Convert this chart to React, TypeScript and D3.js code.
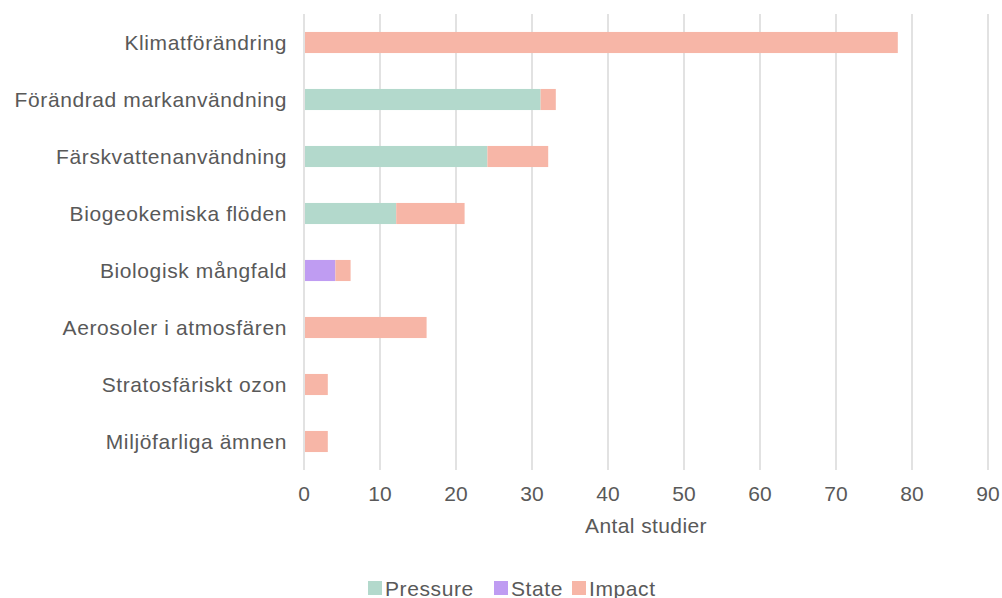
import React from "react";
import * as d3 from "d3";

const categories = [
  "Klimatförändring",
  "Förändrad markanvändning",
  "Färskvattenanvändning",
  "Biogeokemiska flöden",
  "Biologisk mångfald",
  "Aerosoler i atmosfären",
  "Stratosfäriskt ozon",
  "Miljöfarliga ämnen",
];
const pressure = [0, 31, 24, 12, 0, 0, 0, 0];
const state = [0, 0, 0, 0, 4, 0, 0, 0];
const impact = [78, 2, 8, 9, 2, 16, 3, 3];
const seriesNames = ["Pressure", "State", "Impact"];
const seriesColors = ["#b3d9cc", "#bf9cf2", "#f7b6a7"];
const xTicks = [0, 10, 20, 30, 40, 50, 60, 70, 80, 90];

const W = 1002;
const H = 598;
const left = 304;
const right = 988;
const top = 14;
const bottom = 470;
const font = "'Liberation Sans', Arial, sans-serif";
const textColor = "#595959";

export default function App() {
  const x = d3.scaleLinear().domain([0, 90]).range([left, right]);
  const y = d3
    .scaleBand<string>()
    .domain(categories)
    .range([top, bottom])
    .paddingInner(0.63)
    .paddingOuter(0.315);

  const rows = categories.map((c, i) => ({ c, vals: [pressure[i], state[i], impact[i]] }));
  const stacked = d3
    .stack<any>()
    .keys(["0", "1", "2"])
    .value((d, k) => d.vals[+k])(rows);

  const legendX = [368, 494, 572];

  return (
    <svg
      width={W}
      height={H}
      style={{ position: "absolute", left: 0, top: 0, background: "#fff" }}
      fontFamily={font}
    >
      {xTicks.map((t) => (
        <line
          key={t}
          x1={x(t)}
          x2={x(t)}
          y1={top}
          y2={bottom}
          stroke="#d9d9d9"
          strokeWidth={1.5}
        />
      ))}
      {stacked.map((s, si) =>
        s.map((d, i) =>
          d[1] - d[0] > 0 ? (
            <rect
              key={si + "-" + i}
              x={x(d[0]) + 1}
              y={y(categories[i])!}
              width={x(d[1]) - x(d[0])}
              height={y.bandwidth()}
              fill={seriesColors[si]}
            />
          ) : null
        )
      )}
      {categories.map((c) => (
        <text
          key={c}
          x={287}
          y={y(c)! + y.bandwidth() / 2}
          textAnchor="end"
          dominantBaseline="central"
          fontSize={21}
          letterSpacing={0.6}
          fill={textColor}
        >
          {c}
        </text>
      ))}
      {xTicks.map((t) => (
        <text
          key={t}
          x={x(t)}
          y={493}
          textAnchor="middle"
          dominantBaseline="central"
          fontSize={21}
          fill={textColor}
        >
          {t}
        </text>
      ))}
      <text
        x={646}
        y={525}
        textAnchor="middle"
        dominantBaseline="central"
        fontSize={21}
        letterSpacing={0.4}
        fill={textColor}
      >
        Antal studier
      </text>
      {seriesNames.map((n, i) => (
        <g key={n}>
          <rect x={legendX[i]} y={581} width={14} height={14} fill={seriesColors[i]} />
          <text
            x={legendX[i] + 17}
            y={588}
            dominantBaseline="central"
            fontSize={21}
            letterSpacing={0.6}
            fill={textColor}
          >
            {n}
          </text>
        </g>
      ))}
    </svg>
  );
}
